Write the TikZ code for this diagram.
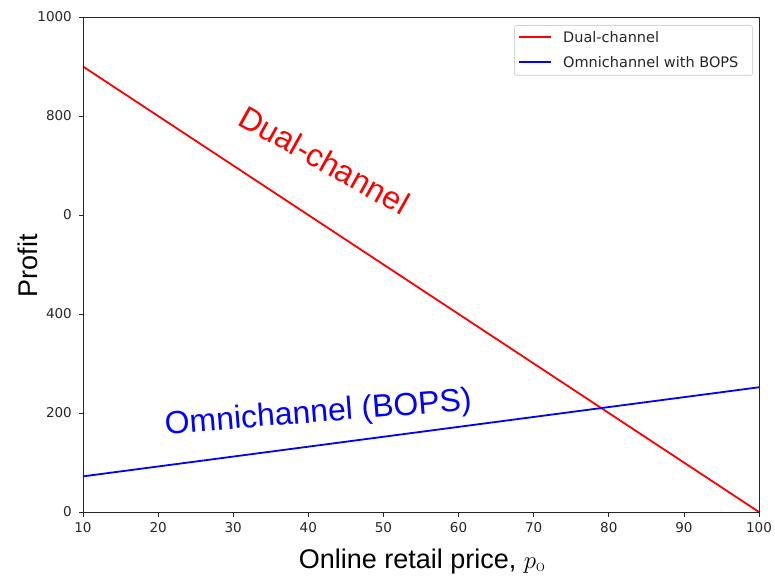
\documentclass[tikz,border=0pt]{standalone}
\usepackage{amsmath}
\usepackage{fontspec}
\setmainfont{Liberation Sans}
\newfontfamily\tickfont{DejaVu Sans}
\newfontfamily\lmrfont{Latin Modern Roman}
\definecolor{mplred}{RGB}{255,0,0}
\definecolor{mplblue}{RGB}{0,0,255}
\definecolor{legedge}{RGB}{215,215,215}
\definecolor{txtgray}{RGB}{38,38,38}
\begin{document}
\begin{tikzpicture}[x=1pt,y=-1pt,
  axisline/.style={line width=0.9pt,black!85},
  tickmark/.style={line width=0.8pt,black!85},
  ticklabel/.style={font=\tickfont\fontsize{13.5}{15}\selectfont,text=txtgray,inner sep=0pt},
  leglabel/.style={font=\tickfont\fontsize{14.5}{16}\selectfont,text=txtgray,inner sep=0pt,anchor=west},
  axlabel/.style={font=\fontsize{27}{30}\selectfont,inner sep=0pt},
  curve/.style={line width=1.8pt},
  annot/.style={font=\fontsize{32}{34}\selectfont,inner sep=0pt,anchor=base}]
\useasboundingbox (0,0) rectangle (775,583);
% data frame: x 10..100 -> 83..759, y 0..1000 -> 512..17
\begin{scope}[shift={(7.889,512)},x=7.5111pt,y=0.495pt]
  \coordinate (ll) at (10,0);
  \coordinate (lr) at (100,0);
  \coordinate (ul) at (10,1000);
  \coordinate (ur) at (100,1000);
  \coordinate (dualA) at (10,900);
  \coordinate (dualB) at (100,0);
  \coordinate (omniA) at (10,72);
  \coordinate (omniB) at (100,252);
  \draw[curve,mplred] (dualA) -- (dualB);
  \draw[curve,mplblue] (omniA) -- (omniB);
  \foreach \v in {10,20,...,100}{
    \draw[tickmark] (\v,0) -- ++(0pt,-4.5pt);
    \node[ticklabel,anchor=base] (xt\v) at ([yshift=-20pt]\v,0) {\v};
  }
  \foreach \v/\t in {0/0,200/200,400/400,600/0,800/800,1000/1000}{
    \draw[tickmark] (10,\v) -- ++(-4.5pt,0pt);
    \node[ticklabel,anchor=east] (yt\v) at ([xshift=-11pt]10,\v) {\t};
  }
\end{scope}
\draw[axisline] (ll) rectangle (ur);
% legend
\node[draw=legedge,fill=white,rounded corners=2pt,line width=0.8pt,minimum width=238pt,minimum height=50pt,inner sep=0pt,anchor=north west] (legend) at (514,25) {};
\coordinate (l1a) at (519,37); \coordinate (l1b) at (551,37);
\coordinate (l2a) at (519,62); \coordinate (l2b) at (551,62);
\draw[curve,mplred] (l1a) -- (l1b);
\draw[curve,mplblue] (l2a) -- (l2b);
\node[leglabel] (leg1) at (563,37) {Dual-channel};
\node[leglabel] (leg2) at (563,62) {Omnichannel with BOPS};
% axis labels
\node[axlabel,anchor=base] (xlab) at (422,568) {Online retail price, $p_{\text{\lmrfont o}}$};
\node[axlabel,rotate=90] (ylab) at (28,266) {Profit};
% annotations
\node[annot,text=mplred,rotate=-29.2] (dualtxt) at (319,170) {Dual-channel};
\node[annot,text=mplblue,rotate=4.5] (omnitxt) at (319,422) {Omnichannel (BOPS)};
\end{tikzpicture}
\end{document}
